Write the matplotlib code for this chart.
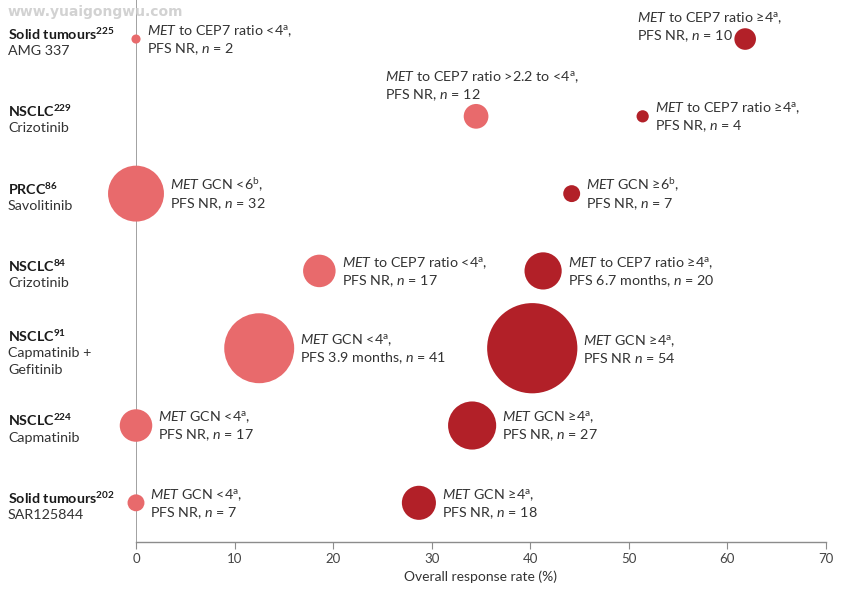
import matplotlib
matplotlib.use("Agg")
import matplotlib.pyplot as plt

plt.rcParams['font.family'] = ['Lato', 'DejaVu Sans']
plt.rcParams['mathtext.fontset'] = 'custom'
plt.rcParams['mathtext.rm'] = 'Lato'
plt.rcParams['mathtext.it'] = 'Lato:italic'
plt.rcParams['mathtext.bf'] = 'Lato:bold'

# studies, top to bottom
study = ['Solid tumours$^{\\mathregular{225}}$', 'NSCLC$^{\\mathregular{229}}$', 'PRCC$^{\\mathregular{86}}$',
         'NSCLC$^{\\mathregular{84}}$', 'NSCLC$^{\\mathregular{91}}$', 'NSCLC$^{\\mathregular{224}}$',
         'Solid tumours$^{\\mathregular{202}}$']
drug = ['AMG 337', 'Crizotinib', 'Savolitinib', 'Crizotinib', 'Capmatinib +\nGefitinib',
        'Capmatinib', 'SAR125844']

# low amplification group (light)
low_orr = [0, 34.5, 0, 18.6, 12.5, 0, 0]
low_n = [2, 12, 32, 17, 41, 17, 7]
low_lbl = ['$\\mathit{MET}$ to CEP7 ratio <4$^{\\mathregular{a}}$,\nPFS NR, $\\mathit{n}$ = 2',
           '$\\mathit{MET}$ to CEP7 ratio >2.2 to <4$^{\\mathregular{a}}$,\nPFS NR, $\\mathit{n}$ = 12',
           '$\\mathit{MET}$ GCN <6$^{\\mathregular{b}}$,\nPFS NR, $\\mathit{n}$ = 32',
           '$\\mathit{MET}$ to CEP7 ratio <4$^{\\mathregular{a}}$,\nPFS NR, $\\mathit{n}$ = 17',
           '$\\mathit{MET}$ GCN <4$^{\\mathregular{a}}$,\nPFS 3.9 months, $\\mathit{n}$ = 41',
           '$\\mathit{MET}$ GCN <4$^{\\mathregular{a}}$,\nPFS NR, $\\mathit{n}$ = 17',
           '$\\mathit{MET}$ GCN <4$^{\\mathregular{a}}$,\nPFS NR, $\\mathit{n}$ = 7']

# high amplification group (dark)
high_orr = [61.8, 51.4, 44.2, 41.3, 40.2, 34.1, 28.7]
high_n = [10, 4, 7, 20, 54, 27, 18]
high_lbl = ['$\\mathit{MET}$ to CEP7 ratio ≥4$^{\\mathregular{a}}$,\nPFS NR, $\\mathit{n}$ = 10',
            '$\\mathit{MET}$ to CEP7 ratio ≥4$^{\\mathregular{a}}$,\nPFS NR, $\\mathit{n}$ = 4',
            '$\\mathit{MET}$ GCN ≥6$^{\\mathregular{b}}$,\nPFS NR, $\\mathit{n}$ = 7',
            '$\\mathit{MET}$ to CEP7 ratio ≥4$^{\\mathregular{a}}$,\nPFS 6.7 months, $\\mathit{n}$ = 20',
            '$\\mathit{MET}$ GCN ≥4$^{\\mathregular{a}}$,\nPFS NR $\\mathit{n}$ = 54',
            '$\\mathit{MET}$ GCN ≥4$^{\\mathregular{a}}$,\nPFS NR, $\\mathit{n}$ = 27',
            '$\\mathit{MET}$ GCN ≥4$^{\\mathregular{a}}$,\nPFS NR, $\\mathit{n}$ = 18']

LIGHT = '#e86a6c'
DARK = '#b22028'
TXT = '#333333'
GREY = '#8c8c8c'
PX = 0.72  # points per pixel at dpi 100

fig = plt.figure(figsize=(8.51, 5.93), dpi=100)
ax = fig.add_axes([136 / 851, 1 - 542 / 593, 690 / 851, 542 / 593])
ax.set_xlim(0, 70)
ax.set_ylim(6.507, -0.505)

ax.axvline(0, color='#9a9a9a', lw=1.3, zorder=1)


def radius(n):
    return 3 + 0.78 * n  # pixels


rows = list(range(len(study)))
ax.scatter(low_orr, rows, s=[(2 * radius(n) * PX) ** 2 for n in low_n], color=LIGHT, lw=0,
           zorder=3, clip_on=False)
ax.scatter(high_orr, rows, s=[(2 * radius(n) * PX) ** 2 for n in high_n], color=DARK, lw=0,
           zorder=3, clip_on=False)

# text offsets for the two labels that sit above their bubble (pixels)
special_low = {1: (-91, 30)}
special_high = {0: (-108, 12)}

for i in rows:
    for x, n, lbl, sp in [(low_orr[i], low_n[i], low_lbl[i], special_low),
                          (high_orr[i], high_n[i], high_lbl[i], special_high)]:
        if i in sp:
            dx, dy = sp[i]
        else:
            dx, dy = radius(n) + 6, -1
        ax.annotate(lbl, xy=(x, i), xytext=(dx * PX, dy * PX), textcoords='offset points',
                    ha='left', va='center', fontsize=10.3, color=TXT, linespacing=1.2,
                    annotation_clip=False)

    # study label on the left
    lines = drug[i].split('\n')
    top = -5 - 7 * (len(lines) - 1)
    ax.annotate(study[i], xy=(0, i), xytext=(-128 * PX, -top * PX), textcoords='offset points',
                ha='left', va='center', fontsize=10.3, fontweight='bold', color='#1a1a1a',
                annotation_clip=False)
    for k, ln in enumerate(lines):
        ax.annotate(ln, xy=(0, i), xytext=(-128 * PX, -(top + 17 * (k + 1)) * PX),
                    textcoords='offset points', ha='left', va='center', fontsize=10.3,
                    color=TXT, annotation_clip=False)

for s in ['left', 'top', 'right']:
    ax.spines[s].set_visible(False)
ax.spines['bottom'].set_color(GREY)
ax.spines['bottom'].set_linewidth(1)
ax.set_yticks([])
ax.set_xticks(range(0, 71, 10))
ax.tick_params(axis='x', length=5, color=GREY, labelsize=9.5, labelcolor='#444444', pad=3)
ax.set_xlabel('Overall response rate (%)', fontsize=10, color='#333333', labelpad=4)

fig.text(8 / 851, 1 - 12 / 593, 'www.yuaigongwu.com', fontsize=10, fontweight='bold',
         family='DejaVu Sans', color='#d2d2d2', ha='left', va='center')

fig.savefig('out.png', dpi=100)
